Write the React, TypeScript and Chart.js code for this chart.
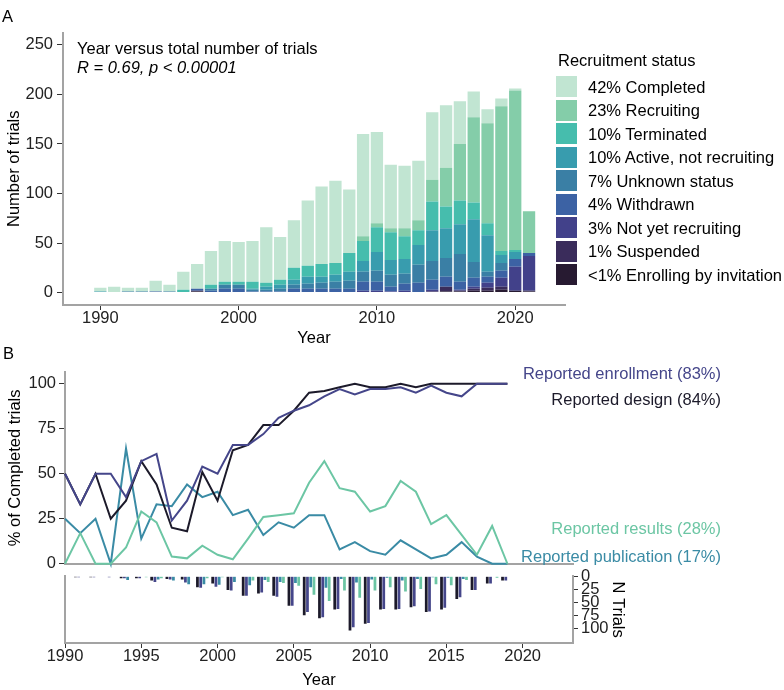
import React, { useEffect, useRef } from 'react';
import { Chart, registerables } from 'chart.js';

Chart.register(...registerables);

const FONT = "'Liberation Sans', Arial, Helvetica, sans-serif";
const FS = 16.5;
const AXIS = '#a3a3a3';
const TICK = '#333333';
const TEXT = '#222222';

// ---------------- Panel A data ----------------
const years = [1990, 1991, 1992, 1993, 1994, 1995, 1996, 1997, 1998, 1999, 2000, 2001, 2002, 2003, 2004, 2005,
  2006, 2007, 2008, 2009, 2010, 2011, 2012, 2013, 2014, 2015, 2016, 2017, 2018, 2019, 2020, 2021];

const statusLabels = ['42% Completed', '23% Recruiting', '10% Terminated', '10% Active, not recruiting',
  '7% Unknown status', '4% Withdrawn', '3% Not yet recruiting', '1% Suspended', '<1% Enrolling by invitation'];
const statusColors = ['#c1e5d2', '#84cda9', '#46bdad', '#389cae', '#3a7fa5', '#3c62a4', '#42418a', '#3a2c5b', '#271a31'];

const completed = [4, 6, 4, 4, 11, 7, 18, 25, 34, 41, 40, 41, 56, 43, 48, 66, 78, 83, 64, 103, 92, 64, 63, 60, 68, 63, 43, 26, 14, 8, 2, 0];
const recruiting = [0, 0, 0, 0, 0, 0, 0, 0, 0, 0, 0, 0, 0, 0, 0, 0, 0, 0, 0, 5, 4, 4, 8, 10, 22, 39, 57, 86, 101, 146, 161, 42];
const terminated = [0, 0, 0, 0, 0, 0, 3, 0, 4, 3, 3, 7, 4, 5, 12, 11, 13, 12, 19, 20, 25, 28, 23, 15, 29, 22, 24, 17, 12, 4, 2, 0];
const activeNotRecruiting = [1, 0, 0, 0, 0, 0, 0, 0, 0, 0, 0, 1, 3, 4, 5, 7, 6, 7, 9, 11, 19, 15, 15, 20, 31, 30, 30, 43, 37, 8, 7, 0];
const unknownStatus = [0, 0, 1, 1, 0, 1, 0, 0, 2, 4, 4, 2, 2, 3, 4, 5, 6, 7, 8, 10, 11, 12, 10, 18, 19, 19, 28, 16, 5, 8, 0, 0];
const withdrawn = [0, 0, 0, 0, 1, 0, 0, 2, 2, 4, 4, 1, 1, 1, 4, 4, 4, 4, 4, 9, 9, 5, 7, 10, 10, 10, 8, 9, 6, 7, 8, 3];
const notYetRecruiting = [0, 0, 0, 0, 0, 0, 0, 0, 0, 0, 0, 0, 0, 0, 0, 0, 0, 0, 0, 2, 2, 1, 2, 0, 2, 0, 1, 2, 5, 9, 24, 35];
const suspended = [0, 0, 0, 0, 0, 0, 0, 1, 0, 0, 0, 0, 0, 0, 0, 0, 0, 0, 0, 0, 0, 0, 0, 0, 1, 5, 1, 2, 3, 3, 0, 1];
const enrollingByInvitation = [0, 0, 0, 0, 0, 0, 0, 1, 0, 0, 0, 0, 0, 0, 0, 0, 0, 0, 0, 0, 0, 0, 0, 0, 0, 1, 1, 2, 2, 3, 2, 1];

const statusSeries = [completed, recruiting, terminated, activeNotRecruiting, unknownStatus, withdrawn,
  notYetRecruiting, suspended, enrollingByInvitation];

const yTicksA = [0, 50, 100, 150, 200, 250];
const xTicksA = [1990, 2000, 2010, 2020];

// ---------------- Panel B data ----------------
const yearsB = [1990, 1991, 1992, 1993, 1994, 1995, 1996, 1997, 1998, 1999, 2000, 2001, 2002, 2003, 2004,
  2005, 2006, 2007, 2008, 2009, 2010, 2011, 2012, 2013, 2014, 2015, 2016, 2017, 2018, 2019];

const pctEnrollment = [50, 33, 50, 50, 37, 57, 61, 24, 35, 54, 50, 66, 66, 72, 81, 85, 88, 93, 97, 94, 97, 97, 98, 95, 99, 95, 93, 100, 100, 100];
const pctDesign = [50, 33, 50, 25, 35, 57, 44, 20, 18, 51, 35, 63, 66, 77, 77, 85, 95, 96, 98, 100, 98, 98, 100, 98, 100, 100, 100, 100, 100, 100];
const pctResults = [0, 17, 0, 0, 9, 29, 23, 4, 3, 10, 5, 2.5, 14, 26, 27, 28, 45, 57, 42, 40, 29, 32, 46, 40, 22, 27, 16, 5, 21, 0];
const pctPublication = [25, 17, 25, 0, 64, 14, 33, 32, 44, 37, 40, 27, 30, 16, 23, 20, 27, 27, 8, 12, 7, 5, 13, 8, 3, 5, 12, 4, 0, 0];

const nDesign = [2, 2, 2, 1, 4, 4, 8, 5, 6, 21, 14, 26, 37, 33, 37, 56, 74, 80, 63, 103, 90, 63, 63, 59, 68, 63, 43, 26, 14, 8];
const nEnrollment = [2, 2, 2, 2, 4, 4, 11, 6, 12, 22, 20, 27, 37, 31, 39, 56, 68, 78, 62, 97, 89, 62, 62, 57, 67, 60, 40, 26, 14, 8];
const nPublication = [1, 1, 1, 0, 7, 1, 6, 8, 15, 15, 16, 11, 17, 7, 11, 13, 21, 22, 5, 12, 6, 3, 8, 5, 2, 3, 5, 1, 0, 0];
const nResults = [0, 1, 0, 0, 1, 2, 4, 1, 1, 4, 2, 1, 8, 11, 13, 18, 35, 47, 27, 41, 27, 21, 29, 24, 15, 17, 7, 1, 3, 0];

const reportLabels = ['Reported enrollment (83%)', 'Reported design (84%)', 'Reported results (28%)', 'Reported publication (17%)'];
const C_ENR = '#45468a';
const C_DES = '#1c1a2a';
const C_RES = '#6cc6a4';
const C_PUB = '#3a8ba5';

const yTicksB = [0, 25, 50, 75, 100];
const nTicks = [0, 25, 50, 75, 100];
const xTicksB = [1990, 1995, 2000, 2005, 2010, 2015, 2020];

// ---------------- helpers ----------------
const tickFont = { family: FONT, size: FS, lineHeight: 1 };
const titleFont = { family: FONT, size: FS, lineHeight: 1.2 };

const fixTicks = (values: number[]) => (scale: any) => {
  scale.ticks = values.map((v) => ({ value: v }));
};

const pts = (xs: number[], ys: number[]) => xs.map((x, k) => ({ x, y: ys[k] }));

function T(props: { x: number; base: number; text: string; size?: number; align?: 'left' | 'right'; color?: string; italic?: boolean }) {
  const size = props.size ?? FS;
  const style: any = {
    position: 'absolute',
    top: props.base - size * 0.8465,
    fontSize: size,
    lineHeight: `${size}px`,
    whiteSpace: 'nowrap',
    color: props.color ?? '#000',
    fontStyle: props.italic ? 'italic' : 'normal',
  };
  if (props.align === 'right') style.right = 784 - props.x;
  else style.left = props.x;
  return <div style={style}>{props.text}</div>;
}

export default function App() {
  const refA = useRef<HTMLCanvasElement>(null);
  const refB1 = useRef<HTMLCanvasElement>(null);
  const refB2 = useRef<HTMLCanvasElement>(null);

  useEffect(() => {
    Chart.defaults.font.family = FONT;
    Chart.defaults.color = TEXT;
    const charts: Chart[] = [];

    // Panel A: stacked bars
    const order = [8, 7, 6, 5, 4, 3, 2, 1, 0];
    charts.push(new Chart(refA.current as HTMLCanvasElement, {
      type: 'bar',
      data: {
        datasets: order.map((i) => ({
          label: statusLabels[i],
          data: pts(years, statusSeries[i]),
          backgroundColor: statusColors[i],
          borderWidth: 0,
          barPercentage: 0.89,
          categoryPercentage: 1,
        })),
      },
      options: {
        responsive: false,
        animation: false,
        devicePixelRatio: 1,
        layout: { padding: { left: 0, top: 32.5, right: 219, bottom: 0 } },
        plugins: { legend: { display: false }, tooltip: { enabled: false } },
        scales: {
          x: {
            type: 'linear', stacked: true, offset: false, min: 1987.3, max: 2023.6,
            afterBuildTicks: fixTicks(xTicksA),
            afterFit: (s: any) => { s.height = 43; },
            grid: { display: true, offset: false, drawOnChartArea: false, drawTicks: true, tickLength: 5, color: TICK, lineWidth: 1 },
            border: { display: true, color: AXIS, width: 2 },
            ticks: { autoSkip: false, maxRotation: 0, padding: 0, color: TEXT, font: tickFont, callback: (v: any) => String(v) },
            title: { display: true, text: 'Year', color: '#000', font: titleFont, padding: { top: 0, bottom: 0 } },
          },
          y: {
            type: 'linear', stacked: true, min: -12.5, max: 262.5,
            afterBuildTicks: fixTicks(yTicksA),
            afterFit: (s: any) => { s.width = 63; },
            grid: { display: true, drawOnChartArea: false, drawTicks: true, tickLength: 6, color: TICK, lineWidth: 1 },
            border: { display: true, color: AXIS, width: 2 },
            ticks: { autoSkip: false, padding: 4, color: TEXT, font: tickFont, callback: (v: any) => String(v) },
            title: { display: true, text: 'Number of trials', color: '#000', font: titleFont, padding: { top: 5, bottom: 0 } },
          },
        },
      } as any,
    }));

    // Panel B top: lines
    charts.push(new Chart(refB1.current as HTMLCanvasElement, {
      type: 'line',
      data: {
        datasets: [
          { label: reportLabels[0], data: pts(yearsB, pctEnrollment), borderColor: C_ENR },
          { label: reportLabels[1], data: pts(yearsB, pctDesign), borderColor: C_DES },
          { label: reportLabels[2], data: pts(yearsB, pctResults), borderColor: C_RES },
          { label: reportLabels[3], data: pts(yearsB, pctPublication), borderColor: C_PUB },
        ].map((d) => ({ ...d, borderWidth: 2, pointRadius: 0, tension: 0, fill: false, clip: false })),
      },
      options: {
        responsive: false,
        animation: false,
        devicePixelRatio: 1,
        layout: { padding: { left: 0, top: 32, right: 211, bottom: 3 } },
        plugins: { legend: { display: false }, tooltip: { enabled: false } },
        scales: {
          x: {
            type: 'linear', offset: false, min: 1990, max: 2023.3,
            afterFit: (s: any) => { s.height = 0; },
            grid: { display: false },
            border: { display: true, color: AXIS, width: 2 },
            ticks: { display: false },
          },
          y: {
            type: 'linear', min: 0, max: 106.5,
            afterBuildTicks: fixTicks(yTicksB),
            afterFit: (s: any) => { s.width = 65; },
            grid: { display: true, drawOnChartArea: false, drawTicks: true, tickLength: 6, color: TICK, lineWidth: 1 },
            border: { display: true, color: AXIS, width: 2 },
            ticks: { autoSkip: false, padding: 3, color: TEXT, font: tickFont, callback: (v: any) => String(v) },
            title: { display: true, text: '% of Completed trials', color: '#000', font: titleFont, padding: { top: 6, bottom: 0 } },
          },
        },
      } as any,
    }));

    // Panel B bottom: N trials bars (downwards)
    charts.push(new Chart(refB2.current as HTMLCanvasElement, {
      type: 'bar',
      data: {
        datasets: [
          { label: 'Design', data: pts(yearsB, nDesign), backgroundColor: C_DES },
          { label: 'Enrollment', data: pts(yearsB, nEnrollment), backgroundColor: C_ENR },
          { label: 'Publication', data: pts(yearsB, nPublication), backgroundColor: C_PUB },
          { label: 'Results', data: pts(yearsB, nResults), backgroundColor: C_RES },
        ].map((d) => ({ ...d, yAxisID: 'y2', borderWidth: 0, barPercentage: 0.85, categoryPercentage: 0.85 })),
      },
      options: {
        responsive: false,
        animation: false,
        devicePixelRatio: 1,
        layout: { padding: { left: 0, top: 7, right: 157, bottom: 0 } },
        plugins: { legend: { display: false }, tooltip: { enabled: false } },
        scales: {
          x: {
            type: 'linear', offset: false, min: 1990, max: 2023.3,
            afterBuildTicks: fixTicks(xTicksB),
            afterFit: (s: any) => { s.height = 47; },
            grid: { display: true, offset: false, drawOnChartArea: false, drawTicks: true, tickLength: 5, color: TICK, lineWidth: 1 },
            border: { display: true, color: AXIS, width: 2 },
            ticks: { autoSkip: false, maxRotation: 0, padding: 0, color: TEXT, font: tickFont, callback: (v: any) => String(v) },
            title: { display: true, text: 'Year', color: '#000', font: titleFont, padding: { top: 0, bottom: 0 } },
          },
          y: {
            type: 'linear', position: 'left', min: 0, max: 1,
            afterFit: (s: any) => { s.width = 65; },
            grid: { display: false },
            border: { display: true, color: AXIS, width: 2 },
            ticks: { display: false },
          },
          y2: {
            type: 'linear', position: 'right', reverse: true, min: 0, max: 126.8,
            afterBuildTicks: fixTicks(nTicks),
            afterFit: (s: any) => { s.width = 54; },
            grid: { display: true, drawOnChartArea: false, drawTicks: true, tickLength: 5, color: TICK, lineWidth: 1 },
            border: { display: true, color: AXIS, width: 2 },
            ticks: { autoSkip: false, padding: 3, color: TEXT, font: tickFont, callback: (v: any) => String(v) },
            title: { display: true, text: 'N Trials', color: '#000', font: titleFont, padding: { top: 0, bottom: 0 } },
          },
        },
      } as any,
    }));

    return () => charts.forEach((c) => c.destroy());
  }, []);

  const legendPitch = 23.5;
  return (
    <div style={{ position: 'absolute', left: 0, top: 0, width: 784, height: 690, background: '#fff', fontFamily: FONT, color: '#000', overflow: 'hidden' }}>
      <canvas ref={refA} width={784} height={348} style={{ position: 'absolute', left: 0, top: 0 }} />
      <canvas ref={refB1} width={784} height={235} style={{ position: 'absolute', left: 0, top: 340 }} />
      <canvas ref={refB2} width={784} height={125} style={{ position: 'absolute', left: 0, top: 565 }} />

      <T x={2} base={21.7} text="A" />
      <T x={3} base={359} text="B" />

      <T x={77} base={54.3} text="Year versus total number of trials" />
      <T x={77} base={72.7} text="R = 0.69, p < 0.00001" italic />

      <T x={558} base={66} text="Recruitment status" />
      {statusLabels.map((lab, i) => (
        <React.Fragment key={lab}>
          <div style={{ position: 'absolute', left: 556, top: 76 + i * legendPitch, width: 21, height: 21, background: statusColors[i] }} />
          <T x={588} base={76 + i * legendPitch + 10.5 + 6.3} text={lab} />
        </React.Fragment>
      ))}

      <T x={721} base={378.5} text={reportLabels[0]} align="right" color={C_ENR} />
      <T x={721} base={405} text={reportLabels[1]} align="right" color={C_DES} />
      <T x={721} base={533.5} text={reportLabels[2]} align="right" color={C_RES} />
      <T x={721} base={561.8} text={reportLabels[3]} align="right" color={C_PUB} />
    </div>
  );
}
